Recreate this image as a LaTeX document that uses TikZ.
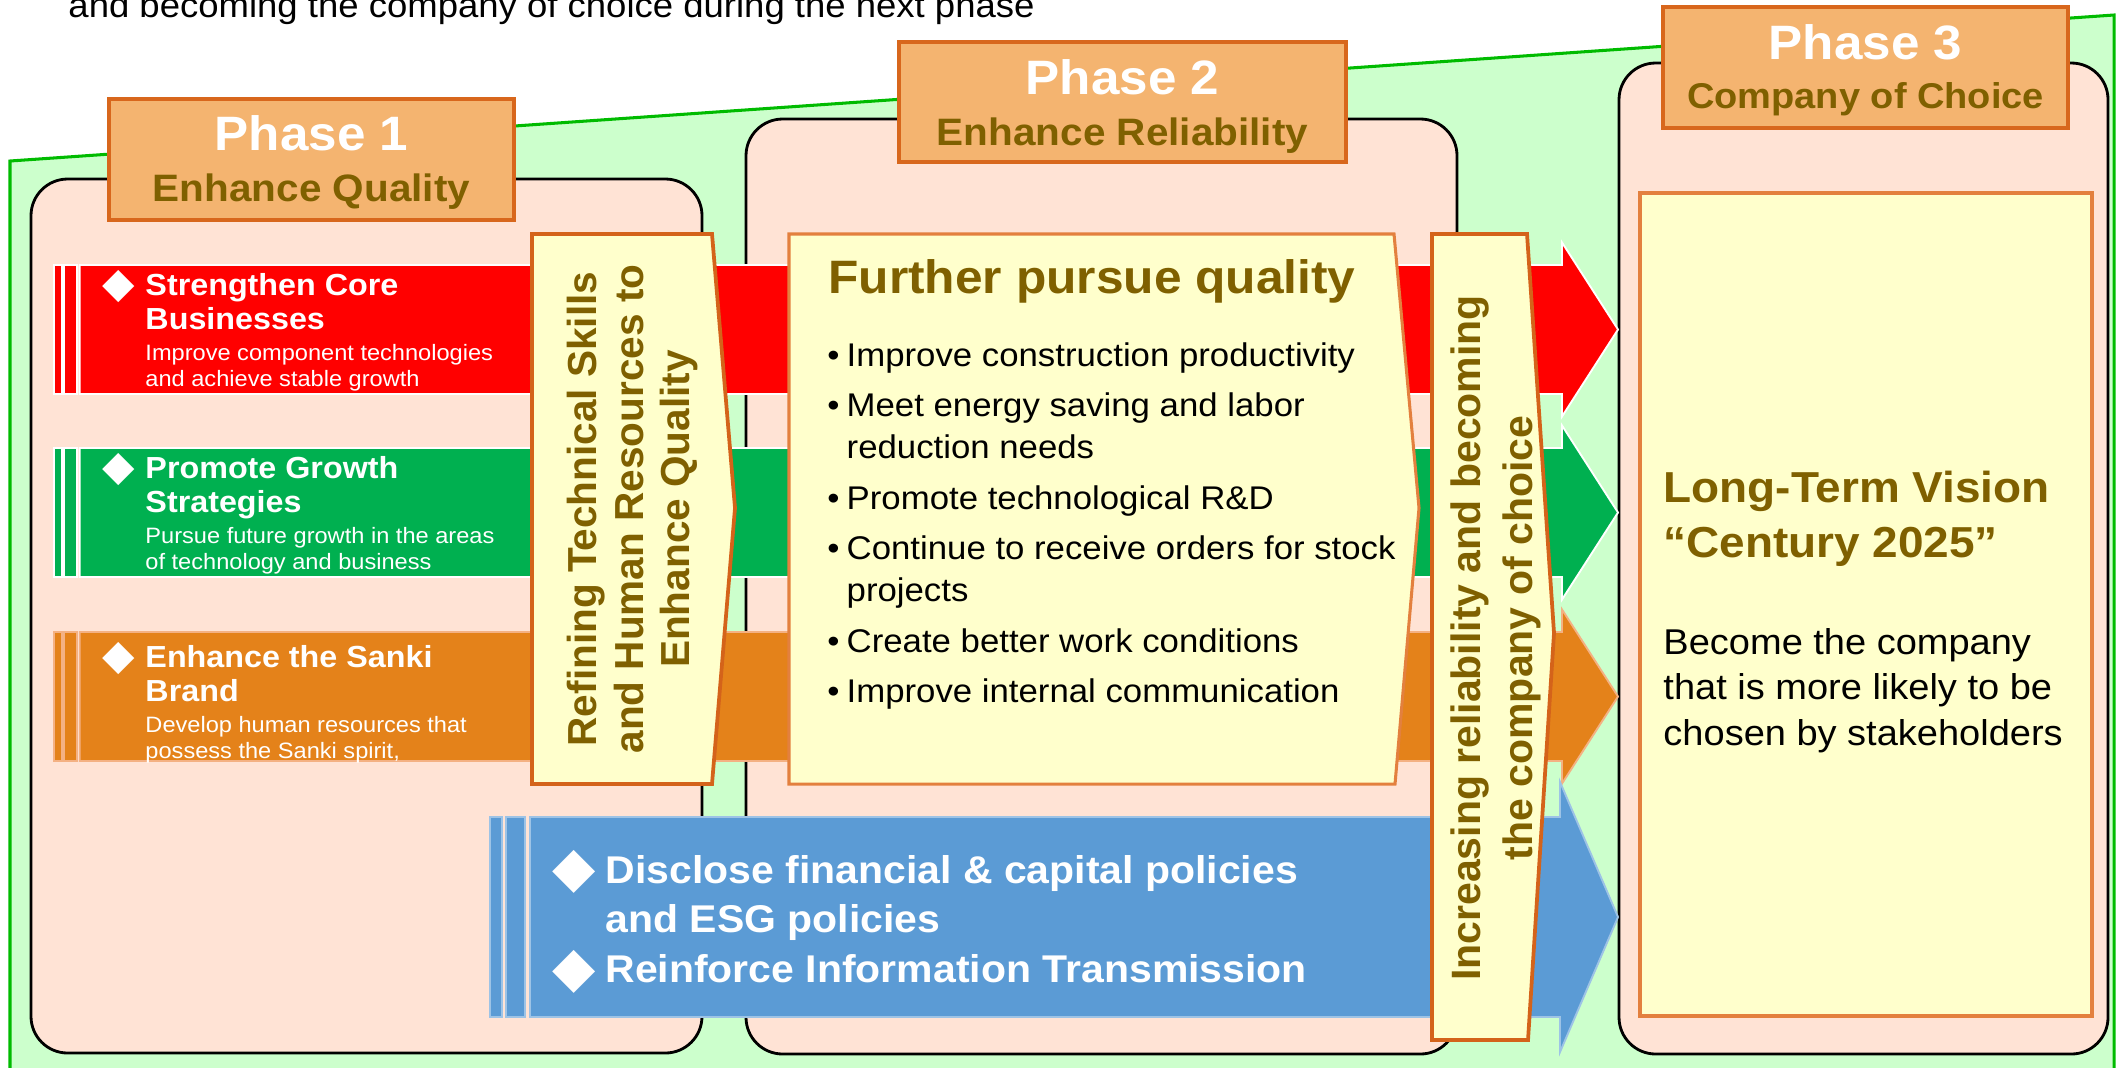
\documentclass[tikz,border=0pt]{standalone}
\usepackage{fontspec}
\setmainfont{Liberation Sans}[FakeStretch=1.06]
\newfontfamily\plainsans{Liberation Sans}
\newfontfamily\symfont{DejaVu Sans}
\usetikzlibrary{positioning}

\definecolor{bggreen}{HTML}{CCFFCC}
\definecolor{bgline}{HTML}{00BB00}
\definecolor{panelfill}{HTML}{FFE3D5}
\definecolor{tabfill}{HTML}{F4B470}
\definecolor{tabline}{HTML}{D8671C}
\definecolor{olive}{HTML}{7F6000}
\definecolor{paleyellow}{HTML}{FFFFCC}
\definecolor{boxline}{HTML}{D4631A}
\definecolor{softline}{HTML}{E3803E}
\definecolor{bandred}{HTML}{FF0000}
\definecolor{bandgreen}{HTML}{00B050}
\definecolor{bandorange}{HTML}{E4821A}
\definecolor{orangeedge}{HTML}{F4B183}
\definecolor{bandblue}{HTML}{5B9BD5}
\definecolor{blueedge}{HTML}{9DC3E6}

%font size and line pitch in pt
\newcommand{\fsize}[2]{\fontsize{#1pt}{#2pt}\selectfont}
%stacked lines, first baseline on top
\newcommand{\textlines}[1]{\begin{tabular}[t]{@{}l@{}}#1\end{tabular}}
\newcommand{\ctextlines}[1]{\begin{tabular}[t]{@{}c@{}}#1\end{tabular}}
%diamond bullet hanging left of the text: size, raise, gap
\newcommand{\dmark}[3]{\llap{\raisebox{#2}{\fsize{#1}{#1}\symfont ◆}\hspace{#3}}}

%striped arrow: fill, edge, left x, top y, bottom y, neck x, half head
\newcommand{\stripedarrow}[7]{%
  \pgfmathsetmacro{\bandh}{#5-#4}%
  \pgfmathsetmacro{\bandmid}{(#4+#5)/2}%
  \begin{scope}[fill=#1, draw=#2, line width=0.8pt]
    \filldraw (#3,#4) rectangle ({#3+0.06*\bandh},#5);
    \filldraw ({#3+0.08*\bandh},#4) rectangle ({#3+0.175*\bandh},#5);
    \filldraw ({#3+0.2*\bandh},#4) -- (#6,#4) -- (#6,{\bandmid-#7})
      -- (\tipx,\bandmid) -- (#6,{\bandmid+#7}) -- (#6,#5)
      -- ({#3+0.2*\bandh},#5) -- cycle;
  \end{scope}}

\begin{document}
\begin{tikzpicture}[x=0.015cm, y=-0.015cm,
   panel/.style={draw=black, fill=panelfill, line width=1.2pt, rounded corners=0.55cm},
   tab/.style={draw=tabline, fill=tabfill, line width=1.6pt},
   phasenum/.style={anchor=base, inner sep=0pt, text=white, font=\fsize{20.6}{24}\bfseries},
   phasename/.style={anchor=base, inner sep=0pt, text=olive, font=\fsize{16.3}{19}\bfseries},
   bandtitle/.style={anchor=base west, inner sep=0pt, text=white, font=\fsize{13}{14.9}\bfseries},
   bandnote/.style={anchor=base west, inner sep=0pt, text=white, font=\fsize{9.5}{11.1}},
   valuebox/.style={draw=boxline, fill=paleyellow, line width=1.6pt},
   focusbox/.style={draw=softline, fill=paleyellow, line width=1.3pt},
   vtext/.style={rotate=90, inner sep=0pt, text=olive}
   ]
\def\tipx{1618}
\useasboundingbox (0,0) rectangle (2123,1067);

%Green backdrop, rising to the right
\draw[fill=bggreen, draw=bgline, line width=1.3pt]
   (10,1090) -- (10,161) -- (2114,15) -- (2114,1090) -- cycle;

%Caption line, cut by the top edge
\node[anchor=base west, inner sep=0pt, font=\fsize{14.7}{17}] (caption) at (68,17)
   {and becoming the company of choice during the next phase};

%Phase panels
\draw[panel] (31,179) rectangle (702,1053);
\draw[panel] (746,119) rectangle (1457,1054);
\draw[panel] (1619,63) rectangle (2108,1054);

%Phase tabs
\draw[tab] (109,99) rectangle (514,220);
\draw[tab] (899,42) rectangle (1346,162);
\draw[tab] (1663,7) rectangle (2068,128);
\node[phasenum] (num1) at (311.5,150) {Phase 1};
\node[phasename] (name1) at (311.5,201) {Enhance Quality};
\node[phasenum] (num2) at (1122.5,94) {Phase 2};
\node[phasename] (name2) at (1122.5,145) {Enhance Reliability};
\node[phasenum] (num3) at (1865.5,59) {Phase 3};
\node[phasename, font=\fsize{15.3}{18}\bfseries] (name3) at (1865.5,108) {Company of Choice};

%Strategy arrows of phase 1
\foreach [count=\i] \bandtop/\col/\edge/\ty/\btitle/\bnote in {
   265/bandred/white/295/{Strengthen Core\\Businesses}/{Improve component technologies\\and achieve stable growth},
   448/bandgreen/white/478/{Promote Growth\\Strategies}/{Pursue future growth in the areas\\of technology and business},
   632/bandorange/orangeedge/667/{Enhance the Sanki\\Brand}/{Develop human resources that\\possess the Sanki spirit,}}
{
   \stripedarrow{\col}{\edge}{54}{\bandtop}{\bandtop+129}{1562}{87}
   \node[bandtitle] (band\i) at (145,\ty) {\textlines{\dmark{18}{-1pt}{4.5pt}\btitle}};
   \node[bandnote] (note\i) at (145,\ty+65) {\textlines{\bnote}};
}

%Disclosure arrow starting in phase 1
\stripedarrow{bandblue}{blueedge}{490}{817}{1017}{1560}{135}
\node[anchor=base west, inner sep=0pt, text=white, font=\fsize{16.5}{21.3}\bfseries] (policy) at (605,883)
   {\textlines{\dmark{24}{-1.5pt}{4pt}Disclose financial \& capital policies\\and ESG policies\\
    \dmark{24}{-1.5pt}{4pt}Reinforce Information Transmission}};

%Yellow boxes riding on the arrows
\draw[valuebox] (532,234) -- (712,234) -- (735,508) -- (712,784) -- (532,784) -- cycle;
\draw[focusbox] (789,234) -- (1394,234) -- (1419,508) -- (1395,784) -- (789,784) -- cycle;
\draw[valuebox] (1432,234) -- (1527,234) -- (1554,633) -- (1528,1040) -- (1432,1040) -- cycle;
\draw[focusbox, line width=1.6pt] (1640,193) rectangle (2092,1016);

\node[vtext, font=\fsize{17.3}{19.8}\plainsans\bfseries] (refine) at (634,509)
   {\ctextlines{Refining Technical Skills\\and Human Resources to\\Enhance Quality}};

\node[anchor=base, inner sep=0pt, text=olive, font=\fsize{20}{24}\bfseries] (further) at (1092,293)
   {Further pursue quality};
\node[anchor=base west, inner sep=0pt, font=\fsize{14}{17.9}] (pursuits) at (827,366)
   {\begin{tabular}[t]{@{}l@{\hspace{3pt}}l@{}}
   •&Improve construction productivity\\[3.7pt]
   •&Meet energy saving and labor\\
    &reduction needs\\[3.7pt]
   •&Promote technological R\&D\\[3.7pt]
   •&Continue to receive orders for stock\\
    &projects\\[3.7pt]
   •&Create better work conditions\\[3.7pt]
   •&Improve internal communication
   \end{tabular}};

\node[vtext, font=\fsize{17.5}{22.2}\plainsans\bfseries] (increase) at (1496,638)
   {\ctextlines{Increasing reliability and becoming\\the company of choice}};

%Phase 3 goal
\node[anchor=base west, inner sep=0pt, text=olive, font=\fsize{18.5}{23.5}\bfseries] (vision) at (1663,502)
   {\textlines{Long-Term Vision\\“Century 2025”}};
\node[anchor=base west, inner sep=0pt, font=\fsize{15.3}{19.6}] (visionNote) at (1663,654)
   {\textlines{Become the company\\that is more likely to be\\chosen by stakeholders}};
\end{tikzpicture}
\end{document}
